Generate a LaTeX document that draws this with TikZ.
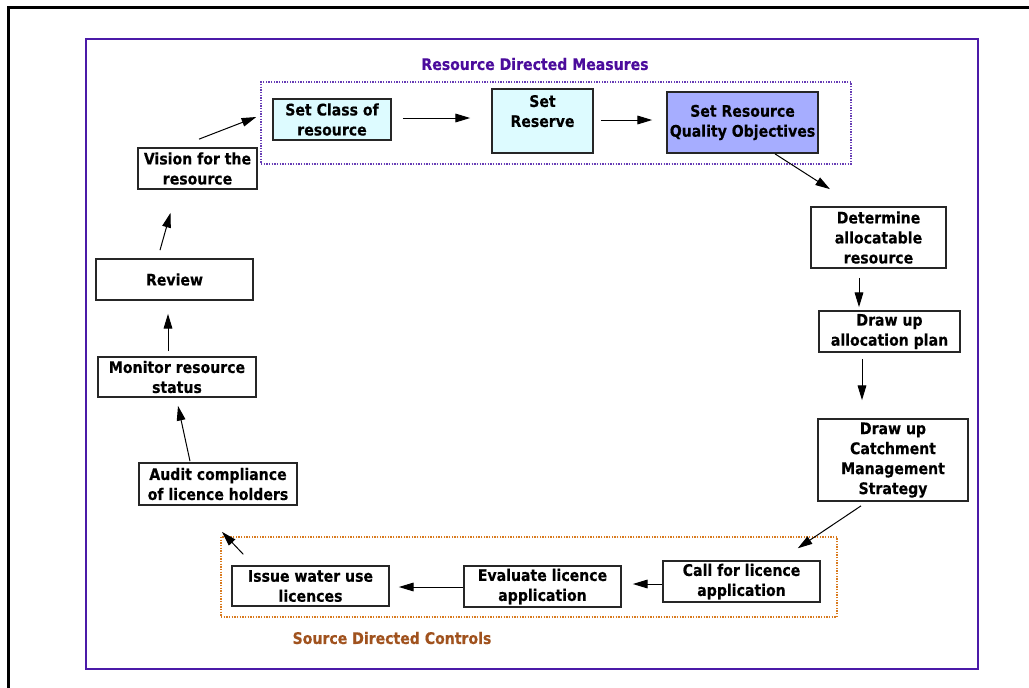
\documentclass[tikz,border=0pt]{standalone}
\usepackage{fontspec}
\setmainfont{DejaVu Sans}
\newfontfamily\boxfont[FakeStretch=0.88,FakeBold=0.3]{DejaVu Sans}
\usepackage{xcolor}
\definecolor{rdmpurple}{HTML}{4B1AA8}
\definecolor{rdmtitle}{HTML}{4B0C9C}
\definecolor{sdcorange}{HTML}{D97A1E}
\definecolor{sdctitle}{HTML}{A0521E}
\definecolor{paleaqua}{HTML}{DDFBFF}
\definecolor{periwinkle}{HTML}{A6ADFF}
\usepackage{tikz}
\usetikzlibrary{arrows.meta, calc}

\begin{document}
\begin{tikzpicture}[
    x=0.75pt, y=-0.75pt,
    box/.style={draw=black!85, line width=1.3pt, rectangle, align=center,
                inner sep=1pt, fill=white,
                font=\boxfont\fontsize{12pt}{15pt}\selectfont\bfseries},
    group/.style={rectangle, line width=1.1pt, dash pattern=on 1pt off 1pt,
                  inner sep=0pt},
    arrow/.style={-{Triangle[length=11pt,width=6.5pt]}, line width=0.75pt},
    ttl/.style={font=\boxfont\fontsize{12pt}{15pt}\selectfont\bfseries}
  ]
    \useasboundingbox (0,0) rectangle (1029,687);
    \draw[line width=2.25pt] (1040,7) -| (8,700);
    \draw[rdmpurple, line width=1.8pt] (86,39) rectangle (978,669);

    \node[group, draw=rdmpurple!85, minimum width=442.5pt, minimum height=61.5pt]
      (rdm) at (556,123) {};
    \node[group, draw=sdcorange, minimum width=462pt, minimum height=60pt]
      (sdc) at (529,577) {};
    \node[ttl, text=rdmtitle] (rdmtitle) at (535,64) {Resource Directed Measures};
    \node[ttl, text=sdctitle] (sdctitle) at (392,638) {Source Directed Controls};

    \node[box, minimum width=89.25pt, minimum height=30.75pt] (vision)
      at (197.5,168.5) {Vision for the\\resource};
    \node[box, fill=paleaqua, minimum width=88.5pt, minimum height=30.75pt] (setclass)
      at (332,119.5) {Set Class of\\resource};
    \node[box, fill=paleaqua, minimum width=75.75pt, minimum height=48pt] (setres)
      at (542.5,121) {Set\\Reserve\\~};
    \node[box, fill=periwinkle, minimum width=113.25pt, minimum height=45.75pt] (srqo)
      at (742.5,122.5) {Set Resource\\Quality Objectives};
    \node[box, minimum width=101.25pt, minimum height=45.75pt] (determ)
      at (878.5,237.5) {Determine\\allocatable\\resource};
    \node[box, minimum width=105.75pt, minimum height=30.75pt] (allocplan)
      at (889.5,331.5) {Draw up\\allocation plan};
    \node[box, inner ysep=0pt, minimum width=112.5pt, minimum height=61.5pt] (cms)
      at (893,460) {Draw up\\Catchment\\Management\\Strategy};
    \node[box, minimum width=117.75pt, minimum height=30.75pt] (callapp)
      at (741.5,581.5) {Call for licence\\application};
    \node[box, minimum width=117.75pt, minimum height=30.75pt] (evalapp)
      at (542.5,586.5) {Evaluate licence\\application};
    \node[box, minimum width=117.75pt, minimum height=30pt] (issue)
      at (310.5,586) {Issue water use\\licences};
    \node[box, minimum width=118.5pt, minimum height=31.5pt] (audit)
      at (218,484) {Audit compliance\\of licence holders};
    \node[box, minimum width=118.5pt, minimum height=30pt] (monitor)
      at (177,377) {Monitor resource\\status};
    \node[box, minimum width=117.75pt, minimum height=30.75pt] (review)
      at (174.5,279.5) {Review};

    \draw[arrow] ($(vision.north)+(1.5,-8)$) -- ($(rdm.west)+(-4,-6)$);
    \draw[arrow] ($(setclass.east)+(11,-1.5)$) -- ($(setres.west)+(-21,-3)$);
    \draw[arrow] ($(setres.east)+(7,-1)$) -- ($(srqo.west)+(-14,-2.5)$);
    \draw[arrow] ($(srqo.south)+(32.5,0)$) -- ($(determ.north)+(-48.5,-17)$);
    \draw[arrow] ($(determ.south)+(-19.5,9)$) -- ($(allocplan.north)+(-30.5,-3)$);
    \draw[arrow] ($(allocplan.south)+(-27.5,6)$) -- ($(cms.north)+(-31,-18)$);
    \draw[arrow] ($(cms.south)+(-32,4)$) -- ($(sdc.north east)+(-40,12)$);
    \draw[arrow] ($(callapp.west)+(0,2.5)$) -- ($(evalapp.east)+(11,-2.5)$);
    \draw[arrow] ($(evalapp.west)+(0,0.5)$) -- ($(issue.east)+(9,1)$);
    \draw[arrow] ($(sdc.north west)+(23,18)$) -- ($(audit.south)+(4,26)$);
    \draw[arrow] ($(audit.north)+(-28,-1)$) -- ($(monitor.south)+(1,8)$);
    \draw[arrow] ($(monitor.north)+(-9,-5)$) -- ($(review.south)+(-6.5,13)$);
    \draw[arrow] ($(review.north)+(-14.5,-8)$) -- ($(vision.south)+(-27,23)$);
  \end{tikzpicture}
\end{document}
